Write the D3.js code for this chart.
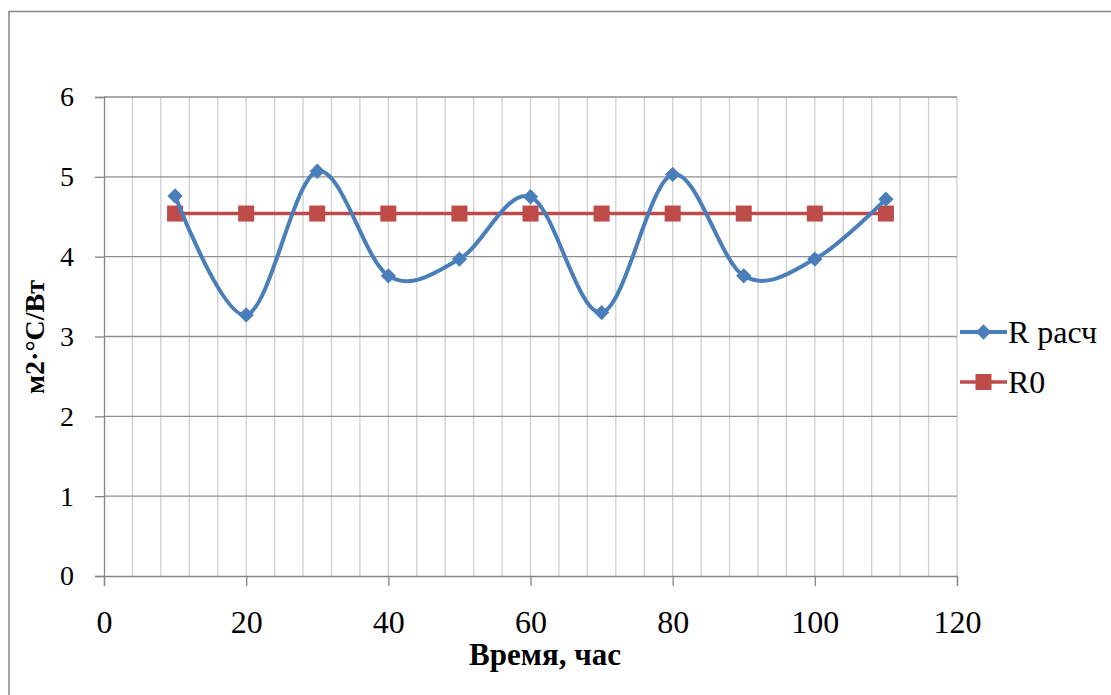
<!DOCTYPE html>
<html>
<head>
<meta charset="utf-8">
<script src="https://cdn.jsdelivr.net/npm/d3@7/dist/d3.min.js"></script>
<style>
  body { margin: 0; background: #fff; }
</style>
</head>
<body>
<svg id="chart"></svg>
<script>
// chart data
const hours = [10, 20, 30, 40, 50, 60, 70, 80, 90, 100, 110];
const rCalc = [4.76, 3.27, 5.07, 3.76, 3.97, 4.75, 3.30, 5.03, 3.76, 3.97, 4.72];
const r0 = [4.54, 4.54, 4.54, 4.54, 4.54, 4.54, 4.54, 4.54, 4.54, 4.54, 4.54];
const xTicks = [0, 20, 40, 60, 80, 100, 120];
const yTicks = [0, 1, 2, 3, 4, 5, 6];
const seriesNames = ['R расч', 'R0'];

const FONT = '"Liberation Serif", "Times New Roman", serif';
const W = 1111, H = 695;
const svg = d3.select('#chart').attr('width', W).attr('height', H);

// outer chart frame
svg.append('rect')
  .attr('x', 9).attr('y', 11.5)
  .attr('width', W + 20).attr('height', H + 20)
  .attr('fill', 'none').attr('stroke', '#868686').attr('stroke-width', 1.5);

const x = d3.scaleLinear().domain([0, 120]).range([104, 957]);
const y = d3.scaleLinear().domain([0, 6]).range([576, 97]);

// minor vertical gridlines every 4 hours
const vGrid = d3.range(4, 121, 4);
svg.append('g').selectAll('line').data(vGrid).enter().append('line')
  .attr('x1', d => x(d)).attr('x2', d => x(d))
  .attr('y1', y(6)).attr('y2', y(0))
  .attr('stroke', '#cfcfcf').attr('stroke-width', 1.3);

// horizontal gridlines
svg.append('g').selectAll('line').data(yTicks.slice(1)).enter().append('line')
  .attr('x1', x(0)).attr('x2', x(120))
  .attr('y1', d => y(d)).attr('y2', d => y(d))
  .attr('stroke', '#8e8e8e').attr('stroke-width', 1.3);

// y axis
const yAxis = svg.append('g')
  .attr('transform', `translate(${x(0)},0)`)
  .call(d3.axisLeft(y).tickValues(yTicks).tickFormat(d3.format('d')).tickSize(9).tickPadding(21));
yAxis.select('.domain').attr('stroke', '#868686').attr('stroke-width', 1.3);
yAxis.selectAll('.tick line').attr('stroke', '#868686').attr('stroke-width', 1.3);
yAxis.selectAll('text').style('font-family', FONT).attr('font-size', 28).attr('fill', '#000');

// x axis
const xAxis = svg.append('g')
  .attr('transform', `translate(0,${y(0)})`)
  .call(d3.axisBottom(x).tickValues(xTicks).tickFormat(d3.format('d')).tickSize(10).tickPadding(24));
xAxis.select('.domain').attr('stroke', '#868686').attr('stroke-width', 1.3);
xAxis.selectAll('.tick line').attr('stroke', '#868686').attr('stroke-width', 1.3);
xAxis.selectAll('text').style('font-family', FONT).attr('font-size', 32).attr('fill', '#000');

// axis titles
svg.append('text')
  .attr('x', 545).attr('y', 665)
  .attr('text-anchor', 'middle')
  .style('font-family', FONT)
  .attr('font-size', 31).attr('font-weight', 'bold')
  .text('Время, час');

svg.append('text')
  .attr('transform', `translate(44,337) rotate(-90)`)
  .attr('text-anchor', 'middle')
  .style('font-family', FONT)
  .attr('font-size', 28).attr('font-weight', 'bold')
  .text('м2·°C/Вт');

const line = d3.line()
  .x((d, i) => x(hours[i]))
  .y(d => y(d));

const blue = '#4a7ebb', red = '#be4b48';

// R0 series
svg.append('path')
  .attr('d', line.curve(d3.curveLinear)(r0))
  .attr('fill', 'none').attr('stroke', red).attr('stroke-width', 3.5);
svg.append('g').selectAll('rect').data(r0).enter().append('rect')
  .attr('x', (d, i) => x(hours[i]) - 8).attr('y', d => y(d) - 8)
  .attr('width', 16).attr('height', 16).attr('fill', red);

// R расч series, smoothed
svg.append('path')
  .attr('d', line.curve(d3.curveCardinal.tension(0))(rCalc))
  .attr('fill', 'none').attr('stroke', blue).attr('stroke-width', 4)
  .attr('stroke-linejoin', 'round');
const diamond = d3.symbol().type(d3.symbolDiamond2).size(150);
svg.append('g').selectAll('path').data(rCalc).enter().append('path')
  .attr('d', diamond)
  .attr('transform', (d, i) => `translate(${x(hours[i])},${y(d)})`)
  .attr('fill', blue);

// legend
const legend = svg.append('g');
const legendColors = [blue, red];
seriesNames.forEach((name, i) => {
  const ly = 332 + i * 50;
  const g = legend.append('g');
  g.append('line').attr('x1', 960).attr('x2', 1007).attr('y1', ly).attr('y2', ly)
    .attr('stroke', legendColors[i]).attr('stroke-width', i === 0 ? 4 : 3.5);
  if (i === 0) {
    g.append('path').attr('d', diamond).attr('transform', `translate(983.5,${ly})`).attr('fill', blue);
  } else {
    g.append('rect').attr('x', 975.5).attr('y', ly - 8).attr('width', 16).attr('height', 16).attr('fill', red);
  }
  g.append('text').attr('x', 1008).attr('y', ly + 11)
    .style('font-family', FONT)
    .attr('font-size', 32).text(name);
});
</script>
</body>
</html>
